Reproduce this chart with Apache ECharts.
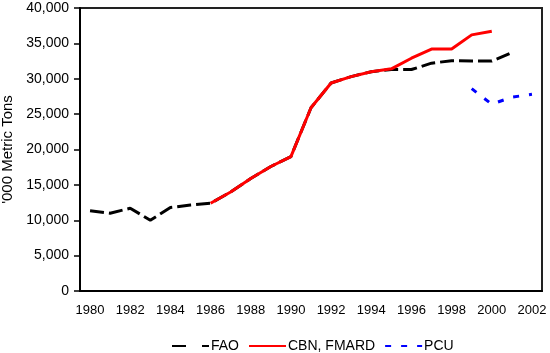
<!DOCTYPE html>
<html lang="en">
<head>
    <meta charset="utf-8">
    <title>Production</title>
    <script src="https://cdn.jsdelivr.net/npm/echarts@6/dist/echarts.min.js"></script>
</head>
<body style="margin:0; background:#fff;">
<div id="main" style="width:550px; height:353px;"></div>
<script type="text/javascript">
    // years on the x axis
    const years = ['1980', '1981', '1982', '1983', '1984', '1985', '1986', '1987', '1988', '1989', '1990', '1991',
        '1992', '1993', '1994', '1995', '1996', '1997', '1998', '1999', '2000', '2001', '2002'];
    // '000 metric tons
    const fao = [11350, 11000, 11700, 10000, 11800, 12150, 12400, 14000, 15900, 17600, 19000, 25900,
        29400, 30300, 31000, 31300, 31300, 32200, 32550, 32500, 32500, 33700, null];
    const cbn = [null, null, null, null, null, null, 12400, 14000, 15900, 17600, 19000, 25900,
        29400, 30300, 31000, 31400, 32900, 34200, 34200, 36200, 36700, null, null];
    const pcu = [null, null, null, null, null, null, null, null, null, null, null, null,
        null, null, null, null, null, null, null, 28600, 26400, 27400, 27800];
    const yTicks = [0, 5000, 10000, 15000, 20000, 25000, 30000, 35000, 40000];

    let myChart = echarts.init(document.getElementById('main'));
    const option = {
        animation: false,
        textStyle: {fontFamily: 'Liberation Sans'},
        grid: {
            left: 80, right: 8, top: 8, bottom: 62, outerBoundsMode: 'none', containLabel: false,
            show: true, borderColor: '#222', borderWidth: 2
        },
        legend: {
            left: 166, top: 334,
            itemWidth: 37, itemHeight: 14, itemGap: 9,
            itemStyle: {opacity: 0},
            textStyle: {fontSize: 14, color: '#000', fontFamily: 'Liberation Sans', padding: [0, 0, 0, -3]},
            data: [
                {name: 'FAO', lineStyle: {type: [14, 16]}},
                {name: 'CBN, FMARD'},
                {name: 'PCU'}
            ]
        },
        xAxis: {
            type: 'category',
            data: years,
            boundaryGap: true,
            axisLine: {lineStyle: {color: '#000', width: 2}},
            axisTick: {length: 6, interval: 0, lineStyle: {color: '#000', width: 1.5}},
            axisLabel: {interval: 1, margin: 13, fontSize: 13, color: '#000'}
        },
        yAxis: {
            type: 'value',
            min: yTicks[0], max: yTicks[yTicks.length - 1], interval: 5000,
            name: "'000 Metric Tons",
            nameLocation: 'middle',
            nameGap: 64,
            nameTextStyle: {fontSize: 15, color: '#000'},
            splitLine: {show: false},
            axisLine: {show: true, lineStyle: {color: '#000', width: 2}},
            axisTick: {show: true, length: 6, lineStyle: {color: '#000', width: 1.5}},
            axisLabel: {
                margin: 11, fontSize: 14, color: '#000',
                formatter: function (v) { return v.toLocaleString('en-US'); }
            }
        },
        series: [
            {
                name: 'FAO', type: 'line', data: fao, symbol: 'none',
                itemStyle: {color: '#000'},
                lineStyle: {color: '#000', width: 3, type: [14, 5]}
            },
            {
                name: 'CBN, FMARD', type: 'line', data: cbn, symbol: 'none',
                itemStyle: {color: '#f00'},
                lineStyle: {color: '#f00', width: 3}
            },
            {
                name: 'PCU', type: 'line', data: pcu, symbol: 'none',
                itemStyle: {color: '#00f'},
                lineStyle: {color: '#00f', width: 3, type: [6, 10]}
            }
        ]
    };
    myChart.setOption(option);
</script>
</body>
</html>
